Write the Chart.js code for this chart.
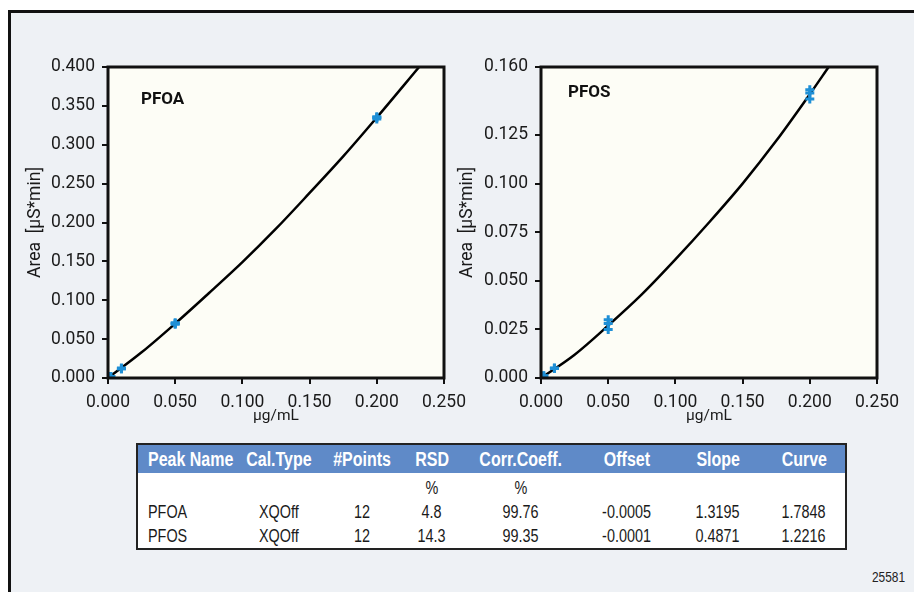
<!DOCTYPE html>
<html>
<head>
<meta charset="utf-8">
<script src="https://cdn.jsdelivr.net/npm/chart.js@4.4.0/dist/chart.umd.min.js"></script>
<style>
  body { margin: 0; width: 914px; height: 592px; overflow: hidden; position: relative; background: #fff;
         font-family: "Liberation Sans", Arial, sans-serif; }
  #frame { position: absolute; left: 8px; top: 10px; width: 1000px; height: 700px; box-sizing: border-box;
           border: 3px solid #111; background: #eef1f5; }
  canvas { position: absolute; }
  #cal { position: absolute; left: 136px; top: 443px; width: 709px; border-collapse: collapse;
         table-layout: fixed; border: 2px solid #222; background: #fff; color: #1a1a1a; font-size: 18px; }
  #cal th { background: #5f8ac8; color: #fff; font-weight: bold; font-size: 20px; height: 28px; padding: 0;
            text-align: center; white-space: nowrap; }
  #cal td { height: 24px; padding: 0; text-align: center; white-space: nowrap; line-height: 20px; }
  #cal tr.pct td { height: 24px; padding-top: 3px; }
  #cal th:first-child, #cal td:first-child { text-align: left; padding-left: 10px; }
  #cal span { display: inline-block; transform: scaleX(0.8); transform-origin: 50% 50%; }
  #cal th:first-child span, #cal td:first-child span { transform-origin: 0 50%; }
  #fig { position: absolute; left: 872px; top: 569px; font-size: 14px; color: #222;
         transform: scaleX(0.85); transform-origin: 0 50%; }
</style>
</head>
<body>
<div id="frame"></div>
<canvas id="pfoa" width="460" height="390" style="left:20px; top:40px;"></canvas>
<canvas id="pfos" width="464" height="390" style="left:450px; top:40px;"></canvas>

<table id="cal">
  <colgroup>
    <col style="width:100px"><col style="width:84px"><col style="width:82px"><col style="width:58px">
    <col style="width:120px"><col style="width:92px"><col style="width:90px"><col style="width:83px">
  </colgroup>
  <tr><th><span>Peak Name</span></th><th><span>Cal.Type</span></th><th><span>#Points</span></th><th><span>RSD</span></th><th><span>Corr.Coeff.</span></th><th><span>Offset</span></th><th><span>Slope</span></th><th><span>Curve</span></th></tr>
  <tr class="pct"><td></td><td></td><td></td><td><span>%</span></td><td><span>%</span></td><td></td><td></td><td></td></tr>
  <tr><td><span>PFOA</span></td><td><span>XQOff</span></td><td><span>12</span></td><td><span>4.8</span></td><td><span>99.76</span></td><td><span>-0.0005</span></td><td><span>1.3195</span></td><td><span>1.7848</span></td></tr>
  <tr><td><span>PFOS</span></td><td><span>XQOff</span></td><td><span>12</span></td><td><span>14.3</span></td><td><span>99.35</span></td><td><span>-0.0001</span></td><td><span>0.4871</span></td><td><span>1.2216</span></td></tr>
</table>
<div id="fig">25581</div>

<script>
// 축 눈금
const xTicks = [0, 0.05, 0.1, 0.15, 0.2, 0.25];
const pfoaYTicks = [0, 0.05, 0.1, 0.15, 0.2, 0.25, 0.3, 0.35, 0.4];
const pfosYTicks = [0, 0.025, 0.05, 0.075, 0.1, 0.125, 0.16];

// 표준 농도 (3회 반복) 및 측정 면적
const stdConc = [0.002, 0.002, 0.002, 0.01, 0.01, 0.01, 0.05, 0.05, 0.05, 0.2, 0.2, 0.2];
const pfoaArea = [0.002, 0.002, 0.002, 0.012, 0.012, 0.013, 0.069, 0.070, 0.071, 0.333, 0.335, 0.336];
const pfosArea = [0.001, 0.001, 0.001, 0.005, 0.005, 0.005, 0.025, 0.028, 0.030, 0.1435, 0.1466, 0.1483];

// 검량선
const pfoaCurveX = [0, 0.025, 0.05, 0.075, 0.1, 0.125, 0.15, 0.175, 0.2, 0.2315];
const pfoaCurveY = [0, 0.033, 0.070, 0.109, 0.149, 0.192, 0.238, 0.285, 0.335, 0.400];
const pfosCurveX = [0, 0.025, 0.05, 0.075, 0.1, 0.125, 0.15, 0.175, 0.2, 0.214];
const pfosCurveY = [0, 0.012, 0.027, 0.043, 0.061, 0.080, 0.100, 0.122, 0.146, 0.160];

const FONT = 'Roboto, "Liberation Sans", sans-serif';
const INK = '#1a1a1a';

function pairs(xs, ys) {
  return xs.map((x, i) => ({ x, y: ys[i] }));
}

// 플롯 배경, 테두리, 성분 이름
const framePlugin = {
  id: 'frame',
  beforeDraw(chart) {
    const a = chart.chartArea, ctx = chart.ctx;
    ctx.save();
    ctx.fillStyle = '#fdfdf6';
    ctx.fillRect(a.left, a.top, a.right - a.left, a.bottom - a.top);
    ctx.restore();
  },
  afterDraw(chart, args, opts) {
    const a = chart.chartArea, ctx = chart.ctx;
    ctx.save();
    ctx.strokeStyle = '#111';
    ctx.lineWidth = 3;
    ctx.strokeRect(a.left, a.top, a.right - a.left, a.bottom - a.top);
    ctx.fillStyle = '#111';
    ctx.font = 'bold 17px ' + FONT;
    ctx.textBaseline = 'middle';
    ctx.fillText(opts.name, a.left + opts.dx, a.top + opts.dy);
    ctx.restore();
  }
};

function makeChart(id, name, yTicks, yMax, area, curveX, curveY, yWidth, padRight, titlePad, nameDx, nameDy) {
  return new Chart(document.getElementById(id), {
    type: 'scatter',
    data: {
      datasets: [
        {
          data: pairs(stdConc, area),
          pointStyle: 'cross',
          pointRadius: 4.5,
          pointBorderWidth: 3,
          borderColor: '#1e8fd6',
          backgroundColor: '#1e8fd6',
          order: 0,
        },
        {
          type: 'line',
          data: pairs(curveX, curveY),
          borderColor: '#000',
          borderWidth: 2.5,
          pointRadius: 0,
          cubicInterpolationMode: 'monotone',
          fill: false,
          order: 1,
        }
      ]
    },
    options: {
      responsive: false,
      animation: false,
      devicePixelRatio: 1,
      layout: { padding: { top: 27, right: padRight, left: 0, bottom: 0 } },
      plugins: {
        legend: { display: false },
        tooltip: { enabled: false },
        frame: { name, dx: nameDx, dy: nameDy },
      },
      scales: {
        x: {
          type: 'linear',
          min: 0, max: 0.25,
          afterBuildTicks: s => { s.ticks = xTicks.map(v => ({ value: v })); },
          afterFit: s => { s.height = 52; },
          ticks: { color: INK, font: { family: FONT, size: 17.5 }, padding: 8, maxRotation: 0,
                   callback: v => v.toFixed(3) },
          grid: { drawOnChartArea: false, color: '#111', lineWidth: 2, tickLength: 6 },
          border: { display: false },
          title: { display: true, text: 'µg/mL', color: INK, font: { family: FONT, size: 15.5 },
                   padding: { top: 0, bottom: 5 } },
        },
        y: {
          type: 'linear',
          min: 0, max: yMax,
          afterBuildTicks: s => { s.ticks = yTicks.map(v => ({ value: v })); },
          afterFit: s => { s.width = yWidth; },
          ticks: { color: INK, font: { family: FONT, size: 17.5 }, padding: 7,
                   callback: v => v.toFixed(3) },
          grid: { drawOnChartArea: false, color: '#111', lineWidth: 2, tickLength: 6 },
          border: { display: false },
          title: { display: true, text: 'Area  [µS*min]', color: INK, font: { family: FONT, size: 17.5 },
                   padding: { top: titlePad, bottom: 0 } },
        }
      }
    },
    plugins: [framePlugin]
  });
}

makeChart('pfoa', 'PFOA', pfoaYTicks, 0.4, pfoaArea, pfoaCurveX, pfoaCurveY, 88, 36, 5, 33, 33);
makeChart('pfos', 'PFOS', pfosYTicks, 0.16, pfosArea, pfosCurveX, pfosCurveY, 91, 37, 7, 27, 26);
</script>
</body>
</html>
